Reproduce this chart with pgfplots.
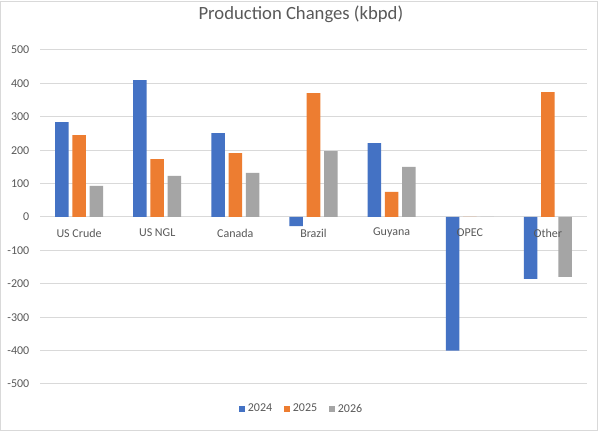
\documentclass[border=0pt]{standalone}
\usepackage{fontspec}
\setmainfont{Carlito}
\usepackage{pgfplots}
\pgfplotsset{compat=1.18}
\definecolor{cBlue}{HTML}{4472C4}
\definecolor{cOrange}{HTML}{ED7D31}
\definecolor{cGray}{HTML}{A5A5A5}
\definecolor{cGrid}{HTML}{D9D9D9}
\definecolor{cText}{HTML}{595959}
\begin{document}
\begin{tikzpicture}
\fill[white] (0,0) rectangle (452.25pt,325.5pt);
\draw[cGrid, line width=0.75pt] (0.375pt,2.625pt) rectangle (448.125pt,324.375pt);
\begin{axis}[
  axis on top,
  at={(30pt,37.5pt)}, anchor=south west,
  scale only axis, width=410.25pt, height=250.5pt,
  xmin=-0.5, xmax=6.5, ymin=-500, ymax=500,
  ytick={-500,-400,...,500},
  xtick={0,1,2,3,4,5,6},
  xticklabels={US Crude,US NGL,Canada,Brazil,Guyana,OPEC,Other},
  axis line style={draw=none},
  major tick length=0pt,
  unbounded coords=jump,
  tick label style={font=\fontsize{9}{11}\selectfont, text=cText},
  /pgf/number format/assume math mode=true,
  yticklabel style={xshift=-4.5pt},
  xticklabel style={anchor=center, yshift=113.25pt},
  title={Production Changes (kbpd)},
  title style={at={(0.477,1.0838)}, anchor=center, font=\fontsize{14}{16}\selectfont, text=cText},
  legend style={at={(0.479,-0.0749)}, anchor=center, draw=none, fill=none,
    legend columns=3, font=\fontsize{9}{11}\selectfont, text=cText,
    /tikz/every even column/.append style={column sep=7pt}},
  legend image code/.code={\fill[#1] (0pt,-2.25pt) rectangle (4.5pt,2.25pt);},
]
% horizontal gridlines (behind the bars)
\addplot[cGrid, line width=0.75pt, forget plot, mark=none] coordinates {
  (-0.5,-500) (6.5,-500) (nan,nan)
  (-0.5,-400) (6.5,-400) (nan,nan)
  (-0.5,-300) (6.5,-300) (nan,nan)
  (-0.5,-200) (6.5,-200) (nan,nan)
  (-0.5,-100) (6.5,-100) (nan,nan)
  (-0.5,0) (6.5,0) (nan,nan)
  (-0.5,100) (6.5,100) (nan,nan)
  (-0.5,200) (6.5,200) (nan,nan)
  (-0.5,300) (6.5,300) (nan,nan)
  (-0.5,400) (6.5,400) (nan,nan)
  (-0.5,500) (6.5,500)
};
\addplot[ybar, bar width=0.173, bar shift=-0.221, fill=cBlue, draw=none]
  coordinates {(0,284) (1,410) (2,251) (3,-27) (4,221) (5,-400) (6,-185)};
\addplot[ybar, bar width=0.173, bar shift=0, fill=cOrange, draw=none]
  coordinates {(0,245) (1,173) (2,191) (3,371) (4,75) (5,0) (6,374)};
\addplot[ybar, bar width=0.173, bar shift=0.221, fill=cGray, draw=none]
  coordinates {(0,93) (1,123) (2,132) (3,197) (4,150) (5,0) (6,-179)};
\legend{2024,2025,2026}
\end{axis}
\pgfresetboundingbox
\path[use as bounding box] (0,0) rectangle (452.25pt,325.5pt);
\end{tikzpicture}
\end{document}
